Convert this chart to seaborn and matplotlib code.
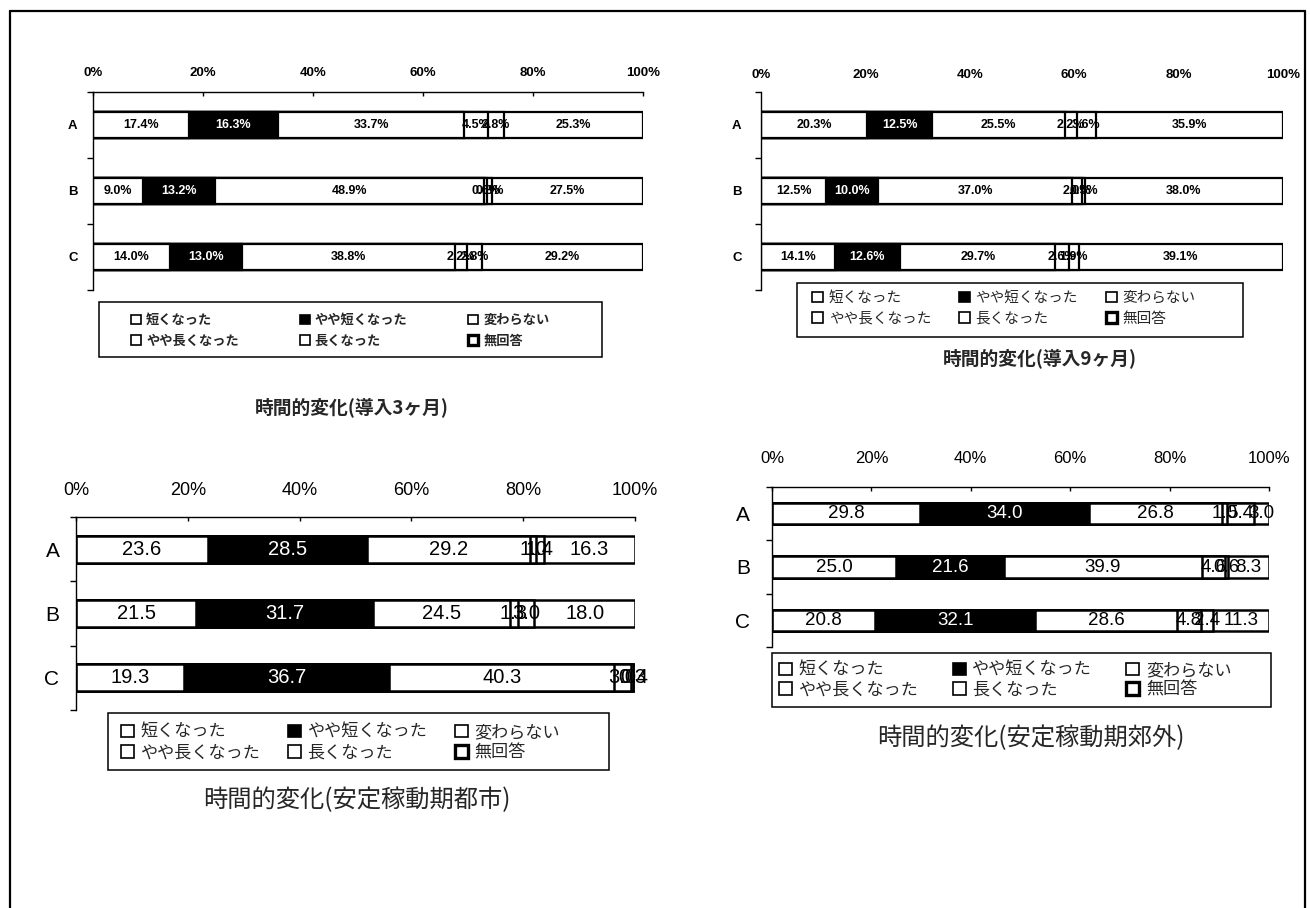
import matplotlib
matplotlib.use("Agg")
import matplotlib.pyplot as plt
from matplotlib.patches import Patch, Rectangle
from matplotlib.lines import Line2D
import seaborn as sns
import pandas as pd
import numpy as np

W, H = 1310, 908

categories = ["A", "B", "C"]
responses = ["短くなった", "やや短くなった", "変わらない", "やや長くなった", "長くなった", "無回答"]
response_colors = ["white", "black", "white", "white", "white", "white"]

# 導入3ヶ月 (%)
intro3_A = [17.4, 16.3, 33.7, 4.5, 2.8, 25.3]
intro3_B = [9.0, 13.2, 48.9, 0.6, 0.8, 27.5]
intro3_C = [14.0, 13.0, 38.8, 2.2, 2.8, 29.2]
# 導入9ヶ月 (%)
intro9_A = [20.3, 12.5, 25.5, 2.2, 3.6, 35.9]
intro9_B = [12.5, 10.0, 37.0, 2.0, 0.5, 38.0]
intro9_C = [14.1, 12.6, 29.7, 2.6, 1.9, 39.1]
# 安定稼動期・都市 (%)
city_A = [23.6, 28.5, 29.2, 1.0, 1.4, 16.3]
city_B = [21.5, 31.7, 24.5, 1.3, 3.0, 18.0]
city_C = [19.3, 36.7, 40.3, 3.0, 0.3, 0.4]
# 安定稼動期・郊外 (%)
suburb_A = [29.8, 34.0, 26.8, 1.0, 5.4, 3.0]
suburb_B = [25.0, 21.6, 39.9, 4.6, 0.6, 8.3]
suburb_C = [20.8, 32.1, 28.6, 4.8, 2.4, 11.3]

tick_values = [0, 20, 40, 60, 80, 100]
tick_labels = ["0%", "20%", "40%", "60%", "80%", "100%"]

titles = ["時間的変化(導入3ヶ月)", "時間的変化(導入9ヶ月)",
          "時間的変化(安定稼動期都市)", "時間的変化(安定稼動期郊外)"]

sns.set_theme(style="white")
plt.rcParams["font.family"] = ["Liberation Sans", "Noto Sans CJK JP", "DejaVu Sans"]
JP = ["Noto Sans CJK JP", "DejaVu Sans"]

fig = plt.figure(figsize=(W / 100, H / 100), dpi=100)
fig.patch.set_facecolor("white")


def fx(x):
    return x / W


def fy(y):
    return 1 - y / H


panels = [
    dict(rows=[intro3_A, intro3_B, intro3_C], x0=93, x1=643, ytop=92, ybot=290,
         top_spine=True, tick_fs=9.5, tick_w="bold", tick_pad=9, cat_fs=9.5, cat_w="bold", cat_pad=11,
         lab_fs=9, lab_w="bold", fmt="{:.1f}%", bar_h=0.40, bar_lw=1.6,
         box=(99, 302, 602, 357), anchor=(131, 313), leg_fs=9.5, leg_w="bold",
         colsp=4.6, lsp=0.5, title=titles[0], title_xy=(352, 407), title_fs=13.5, title_w="bold"),
    dict(rows=[intro9_A, intro9_B, intro9_C], x0=761, x1=1283, ytop=92, ybot=290,
         top_spine=False, tick_fs=9.5, tick_w="bold", tick_pad=8, cat_fs=9.5, cat_w="bold", cat_pad=14,
         lab_fs=9, lab_w="bold", fmt="{:.1f}%", bar_h=0.40, bar_lw=1.6,
         box=(797, 283, 1243, 337), anchor=(812, 291), leg_fs=10.5, leg_w="normal",
         colsp=1.9, lsp=0.45, title=titles[1], title_xy=(1040, 358), title_fs=13.5, title_w="bold"),
    dict(rows=[city_A, city_B, city_C], x0=76, x1=635, ytop=517, ybot=710,
         top_spine=True, tick_fs=13, tick_w="normal", tick_pad=13, cat_fs=15, cat_w="normal", cat_pad=12,
         lab_fs=14.5, lab_w="normal", fmt="{:.1f}", bar_h=0.42, bar_lw=1.8,
         box=(108, 713, 609, 770), anchor=(121, 723), leg_fs=12.3, leg_w="normal",
         colsp=1.6, lsp=0.15, title=titles[2], title_xy=(357, 800), title_fs=17.5, title_w="normal"),
    dict(rows=[suburb_A, suburb_B, suburb_C], x0=772, x1=1269, ytop=487, ybot=647,
         top_spine=True, tick_fs=12, tick_w="normal", tick_pad=15, cat_fs=15, cat_w="normal", cat_pad=16,
         lab_fs=13.5, lab_w="normal", fmt="{:.1f}", bar_h=0.40, bar_lw=1.8,
         box=(772, 653, 1271, 707), anchor=(779, 661), leg_fs=12.3, leg_w="normal",
         colsp=2.0, lsp=0.1, title=titles[3], title_xy=(1031, 738), title_fs=17.5, title_w="normal"),
]


def draw_panel(p):
    ax = fig.add_axes([fx(p["x0"]), fy(p["ybot"]), fx(p["x1"]) - fx(p["x0"]),
                       (p["ybot"] - p["ytop"]) / H])
    ax.set_facecolor("none")
    vals = np.array(p["rows"], dtype=float)
    cum = vals.cumsum(axis=1)
    # cumulative bars drawn from the longest down, so each segment shows its own fill
    for j in reversed(range(len(responses))):
        df = pd.DataFrame({"category": categories, "cum": cum[:, j]})
        sns.barplot(data=df, x="cum", y="category", order=categories, orient="h",
                    color=response_colors[j], saturation=1, edgecolor="black",
                    linewidth=p["bar_lw"], width=p["bar_h"], errorbar=None, ax=ax)
    for i in range(len(categories)):
        start = 0.0
        for j, v in enumerate(vals[i]):
            ax.text(start + v / 2, i, p["fmt"].format(v), ha="center", va="center",
                    color="white" if response_colors[j] == "black" else "black",
                    fontsize=p["lab_fs"], fontweight=p["lab_w"], clip_on=False, zorder=5)
            start += v
    ax.set_xlim(0, 100)
    ax.set_ylim(2.5, -0.5)
    ax.set_xlabel("")
    ax.set_ylabel("")
    ax.xaxis.tick_top()
    ax.set_xticks(tick_values)
    ax.set_xticklabels(tick_labels, fontsize=p["tick_fs"], fontweight=p["tick_w"])
    ax.tick_params(axis="x", which="major", direction="in", length=3 if p["top_spine"] else 0,
                   width=1, pad=p["tick_pad"], colors="black", top=True, bottom=False)
    ax.set_yticks(range(len(categories)))
    ax.set_yticklabels(categories, fontsize=p["cat_fs"], fontweight=p["cat_w"])
    ax.set_yticks([-0.5, 0.5, 1.5, 2.5], minor=True)
    ax.tick_params(axis="y", which="major", length=0, pad=p["cat_pad"], colors="black")
    ax.tick_params(axis="y", which="minor", direction="out", length=4, width=1, left=True,
                   colors="black")
    for s in ["right", "bottom"]:
        ax.spines[s].set_visible(False)
    ax.spines["top"].set_visible(p["top_spine"])
    for s in ["left", "top"]:
        ax.spines[s].set_color("black")
        ax.spines[s].set_linewidth(1)
    ax.grid(False)

    # legend
    handles = [Patch(facecolor=c, edgecolor="black", linewidth=1.2) for c in response_colors]
    handles[-1] = Patch(facecolor="white", edgecolor="black", linewidth=2.4)
    order = [0, 3, 1, 4, 2, 5]
    fig.legend([handles[k] for k in order], [responses[k] for k in order],
               ncol=3, loc="upper left",
               bbox_to_anchor=(fx(p["anchor"][0]), fy(p["anchor"][1])),
               bbox_transform=fig.transFigure, frameon=False, borderpad=0,
               borderaxespad=0, handlelength=0.75, handleheight=0.75,
               handletextpad=0.4, columnspacing=p["colsp"], labelspacing=p["lsp"],
               prop={"family": JP, "size": p["leg_fs"], "weight": p["leg_w"]})
    bx0, by0, bx1, by1 = p["box"]
    fig.add_artist(Rectangle((fx(bx0), fy(by1)), fx(bx1) - fx(bx0), (by1 - by0) / H,
                             transform=fig.transFigure, facecolor="none",
                             edgecolor="black", linewidth=1.1))
    fig.text(fx(p["title_xy"][0]), fy(p["title_xy"][1]), p["title"], ha="center",
             va="center", fontsize=p["title_fs"], fontweight=p["title_w"], family=JP)


for p in panels:
    draw_panel(p)

# page frame
frame_kw = dict(transform=fig.transFigure, color="black", linewidth=1.6)
fig.add_artist(Line2D([fx(10), fx(10)], [fy(11), fy(908)], **frame_kw))
fig.add_artist(Line2D([fx(10), fx(1305)], [fy(11), fy(11)], **frame_kw))
fig.add_artist(Line2D([fx(1305), fx(1305)], [fy(11), fy(908)], **frame_kw))

fig.savefig("out.png", dpi=100, facecolor="white")
